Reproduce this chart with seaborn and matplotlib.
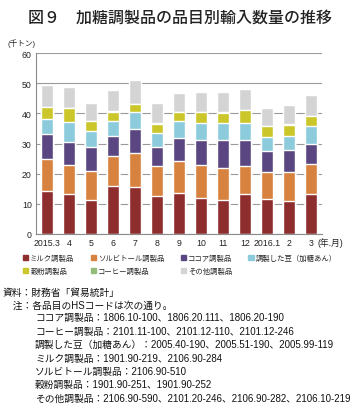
import pandas as pd
import matplotlib.pyplot as plt
import matplotlib.patches as mpatches
import seaborn as sns

# データ（千トン）
months = ['2015.3', '4', '5', '6', '7', '8', '9', '10', '11', '12', '2016.1', '2', '3']
milk = [14.3, 13.3, 11.3, 15.9, 15.6, 12.6, 13.6, 11.9, 11.3, 13.2, 11.6, 11.0, 13.3]
sorbitol = [10.6, 9.6, 9.5, 9.8, 11.1, 9.9, 10.6, 11.0, 10.6, 9.4, 8.9, 9.5, 9.8]
cocoa = [8.2, 7.6, 8.1, 6.8, 8.1, 6.4, 7.5, 8.3, 9.3, 8.6, 6.9, 7.4, 6.8]
beans = [5.1, 6.6, 5.3, 4.8, 5.6, 4.7, 5.6, 5.7, 5.7, 5.7, 4.8, 4.5, 5.8]
flour = [3.9, 4.6, 3.3, 3.3, 2.7, 3.0, 3.0, 3.4, 3.3, 4.1, 3.6, 3.8, 3.3]
coffee = [0.1, 0.1, 0.1, 0.1, 0.1, 0.1, 0.1, 0.1, 0.1, 0.1, 0.1, 0.1, 0.1]
other = [7.2, 6.9, 5.8, 7.0, 7.7, 6.8, 6.5, 6.8, 6.9, 7.0, 6.0, 6.4, 6.9]

series = ['ミルク調製品', 'ソルビトール調製品', 'ココア調製品', '調製した豆（加糖あん）',
          '穀粉調製品', 'コーヒー調製品', 'その他調製品']
colors = ['#8e2d2e', '#d8823f', '#5a4781', '#8ccbdb', '#cbc72a', '#93bb79', '#d4d4d4']

notes = [
    '資料：財務省「貿易統計」',
    '　注：各品目のHSコードは次の通り。',
    'ココア調製品：1806.10-100、1806.20.111、1806.20-190',
    'コーヒー調製品：2101.11-100、2101.12-110、2101.12-246',
    '調製した豆（加糖あん）：2005.40-190、2005.51-190、2005.99-119',
    'ミルク調製品：1901.90-219、2106.90-284',
    'ソルビトール調製品：2106.90-510',
    '穀粉調製品：1901.90-251、1901.90-252',
    'その他調製品：2106.90-590、2101.20-246、2106.90-282、2106.10-219',
]

df = pd.DataFrame({'month': months})
for name, vals in zip(series, [milk, sorbitol, cocoa, beans, flour, coffee, other]):
    df[name] = vals
# 積み上げ用の累積値
cum = df[series].cumsum(axis=1)
cum['month'] = months

sns.set_style('white')
plt.rcParams['font.family'] = ['Liberation Sans', 'Noto Sans CJK JP']

fig = plt.figure(figsize=(3.6, 4.1), dpi=100)
ax = fig.add_axes([36 / 360, 175 / 410, 286 / 360, 181 / 410])

# 上の系列から順に重ねて描く
for name, c in zip(series[::-1], colors[::-1]):
    sns.barplot(data=cum, x='month', y=name, order=months, color=c,
                width=0.55, errorbar=None, saturation=1, ax=ax, zorder=2)

ax.set_xlim(-0.5, 12.5)
ax.set_ylim(0, 60)
ax.set_yticks(range(0, 61, 10))
ax.yaxis.grid(True, color='#9a9a9a', lw=0.8, zorder=0)
ax.set_axisbelow(True)
ax.set_xlabel('')
ax.set_ylabel('')
for s in ['top', 'right']:
    ax.spines[s].set_visible(False)
for s in ['left', 'bottom']:
    ax.spines[s].set_color('#8a8a8a')
    ax.spines[s].set_linewidth(0.8)
ax.tick_params(axis='both', length=0, labelsize=6.3, colors='#222222', pad=3)

fig.text(317 / 360, 175 / 410 - 0.0075, '(年.月)', fontsize=6.3, color='#222222',
         va='top', ha='left')
fig.text(8 / 360, 1 - 44 / 410, '(千トン)', fontsize=5.5, color='#222222', va='center')

fig.text(0.5, 1 - 18 / 410, '図９　加糖調製品の品目別輸入数量の推移', fontsize=11.5,
         ha='center', va='center', color='#222222', fontweight='medium')

# 凡例（行優先に並べる）
handles = [mpatches.Patch(color=c, label=n) for n, c in zip(series, colors)]
idx = [0, 4, 1, 5, 2, 6, 3]
fig.legend([handles[i] for i in idx], [series[i] for i in idx],
           loc='upper left', bbox_to_anchor=(20 / 360, 1 - 253 / 410), ncol=4,
           frameon=False, fontsize=5.3, handlelength=0.7, handleheight=0.7,
           handletextpad=0.3, columnspacing=2.2, labelspacing=0.8, borderaxespad=0)

ys = [293, 306, 318, 332, 345, 359, 372, 385, 399]
xs = [3, 3] + [35] * 7
for t, x, y in zip(notes, xs, ys):
    fig.text(x / 360, 1 - y / 410, t, fontsize=7.0, va='center', ha='left', color='#111111')

fig.savefig('out.png', dpi=100)
